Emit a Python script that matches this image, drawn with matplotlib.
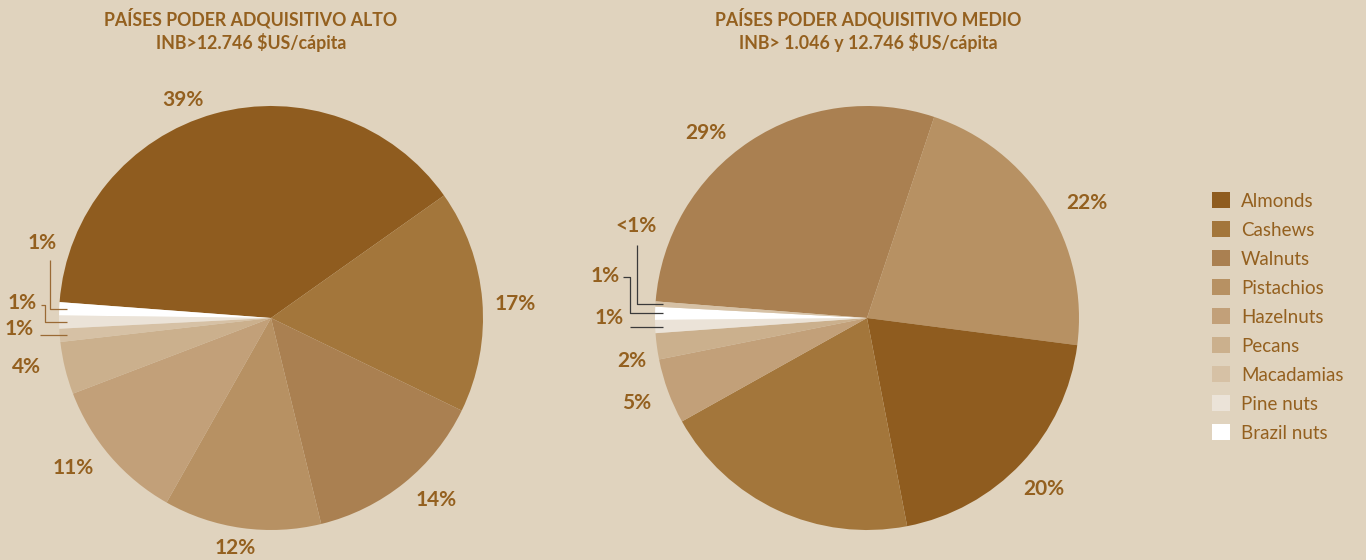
import numpy as np
import matplotlib.pyplot as plt
from matplotlib.patches import Patch

plt.rcParams['font.family'] = ['Lato', 'DejaVu Sans']

BG = '#e0d3be'
TXT = '#94601f'

nuts = ['Almonds', 'Cashews', 'Walnuts', 'Pistachios', 'Hazelnuts',
        'Pecans', 'Macadamias', 'Pine nuts', 'Brazil nuts']
colors = ['#8f5c1f', '#a3763b', '#aa8051', '#b79163', '#c2a079',
          '#cbb08d', '#d6c1a5', '#ebe3d8', '#ffffff']
color_of = dict(zip(nuts, colors))

# high purchasing power countries (clockwise order as drawn)
high_nuts = ['Almonds', 'Cashews', 'Walnuts', 'Pistachios', 'Hazelnuts',
             'Pecans', 'Macadamias', 'Pine nuts', 'Brazil nuts']
high_vals = [39, 17, 14, 12, 11, 4, 1, 1, 1]
high_lbls = ['39%', '17%', '14%', '12%', '11%', '4%', '1%', '1%', '1%']

# middle purchasing power countries
mid_nuts = ['Walnuts', 'Pistachios', 'Almonds', 'Cashews', 'Hazelnuts',
            'Pecans', 'Pine nuts', 'Brazil nuts', 'Macadamias']
mid_vals = [29, 22, 20, 20, 5, 2, 1, 1, 0.4]
mid_lbls = ['29%', '22%', '20%', '', '5%', '2%', '1%', '1%', '<1%']

# hand placement of the outer labels: angle nudge (deg) and radius
high_nudge = [6.5, -1.4, 3.3, -1.0, -3.6, -2.3]
high_rad = [1.108, 1.156, 1.160, 1.099, 1.170, 1.175]
mid_nudge = [7.6, -4.5, -0.9, 0, 0.0, 2.6]
mid_rad = [1.156, 1.170, 1.160, 1, 1.156, 1.127]

W, H = 1366, 560
R = 212
fig = plt.figure(figsize=(W / 100, H / 100), dpi=100, facecolor=BG)


def make_ax(cx, cy):
    ax = fig.add_axes([(cx - R) / W, (H - cy - R) / H, 2 * R / W, 2 * R / H])
    return ax


def draw_pie(ax, names, vals, lbls, start, nudge, rad):
    wedges, _ = ax.pie(vals, colors=[color_of[n] for n in names],
                       startangle=start, counterclock=False, radius=1,
                       wedgeprops=dict(linewidth=0))
    ax.set_xlim(-1, 1)
    ax.set_ylim(-1, 1)
    ax.set_aspect('equal')
    ax.axis('off')
    for i, (w, lbl) in enumerate(zip(wedges, lbls)):
        w.set_clip_on(False)
        if not lbl or i >= len(nudge):
            continue
        a = np.deg2rad((w.theta1 + w.theta2) / 2 + nudge[i])
        ax.text(rad[i] * np.cos(a), rad[i] * np.sin(a), lbl, ha='center',
                va='center', fontsize=15, fontweight='bold', color=TXT)
    return wedges


def leader(ax, w, path, txt_xy, txt, lc):
    a = np.deg2rad((w.theta1 + w.theta2) / 2)
    y0 = np.sin(a)
    xs = [-0.962] + [p[0] for p in path]
    ys = [y0, y0] + [p[1] for p in path[1:]]
    ax.plot(xs, ys, color=lc, lw=0.9, clip_on=False, solid_capstyle='butt')
    ax.text(txt_xy[0], txt_xy[1], txt, ha='center', va='center',
            fontsize=15, fontweight='bold', color=TXT)


# left pie
axl = make_ax(271, 318)
wl = draw_pie(axl, high_nuts, high_vals, high_lbls, 175.7, high_nudge, high_rad)
lc_l = '#9a6a35'
leader(axl, wl[8], [(-1.042, 0), (-1.042, 0.274)], (-1.08, 0.354), '1%', lc_l)
leader(axl, wl[7], [(-1.066, 0), (-1.066, 0.061), (-1.085, 0.061)],
       (-1.175, 0.071), '1%', lc_l)
leader(axl, wl[6], [(-1.09, 0)], (-1.19, -0.052), '1%', lc_l)

# right pie
axr = make_ax(867, 318)
wr = draw_pie(axr, mid_nuts, mid_vals, mid_lbls, 175.5, mid_nudge, mid_rad)
lc_r = '#3a3a3a'
leader(axr, wr[8], [(-1.085, 0), (-1.085, 0.344)], (-1.09, 0.434), '<1%', lc_r)
leader(axr, wr[7], [(-1.118, 0), (-1.118, 0.193), (-1.151, 0.193)],
       (-1.236, 0.198), '1%', lc_r)
leader(axr, wr[6], [(-1.118, 0)], (-1.217, 0.0), '1%', lc_r)

# titles
tkw = dict(ha='center', va='center', fontsize=12.8, fontweight='bold', color=TXT)
fig.text(251 / W, 1 - 18 / H, 'PAÍSES PODER ADQUISITIVO ALTO', **tkw)
fig.text(251 / W, 1 - 42 / H, 'INB>12.746 $US/cápita', **tkw)
fig.text(868 / W, 1 - 18 / H, 'PAÍSES PODER ADQUISITIVO MEDIO', **tkw)
fig.text(868 / W, 1 - 42 / H, 'INB> 1.046 y 12.746 $US/cápita', **tkw)

# legend
handles = [Patch(facecolor=c, edgecolor='none') for c in colors]
leg = fig.legend(handles, nuts, loc='upper left',
                 bbox_to_anchor=(1212 / W, 1 - 192 / H), frameon=False,
                 fontsize=13.5, handlelength=0.96, handleheight=0.96,
                 handletextpad=0.59, labelspacing=0.61, borderpad=0,
                 borderaxespad=0)
for t in leg.get_texts():
    t.set_color(TXT)

fig.savefig('out.png', dpi=100, facecolor=BG)
